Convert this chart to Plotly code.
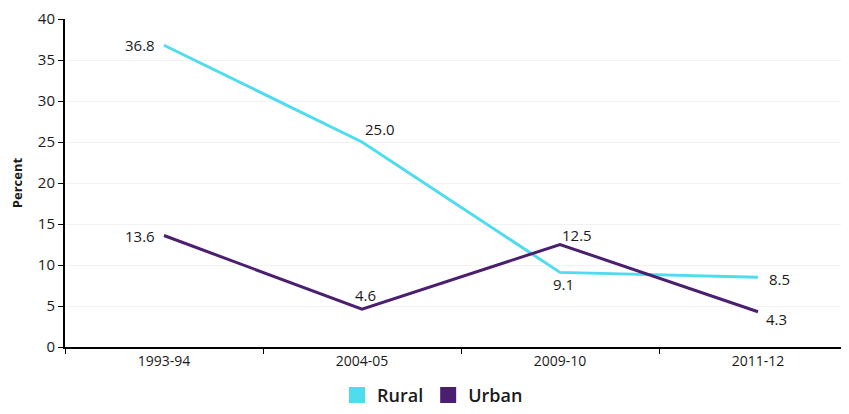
import plotly.graph_objects as go

years = ["1993-94", "2004-05", "2009-10", "2011-12"]
rural = [36.8, 25.0, 9.1, 8.5]
urban = [13.6, 4.6, 12.5, 4.3]
series_names = ["Rural", "Urban"]
colors = ["#4fdcef", "#4b1f6f"]

# label offsets (pixels) relative to each point
rural_shift = [(-24, 0), (18, 13), (3, -12), (21, -2)]
urban_shift = [(-24, -1), (3, 14), (17, 10), (18, -7)]

FONT = "'Open Sans', sans-serif"

fig = go.Figure()
for name, vals, col in zip(series_names, [rural, urban], colors):
    fig.add_trace(go.Scatter(
        x=years, y=vals, name=name, mode="lines", showlegend=False,
        line=dict(color=col, width=3),
    ))
for name, col in zip(series_names, colors):
    fig.add_trace(go.Scatter(
        x=[None], y=[None], name=name, mode="markers",
        marker=dict(symbol="square", size=17, color=col),
    ))

for vals, shifts in [(rural, rural_shift), (urban, urban_shift)]:
    for yr, v, (dx, dy) in zip(years, vals, shifts):
        fig.add_annotation(
            x=yr, y=v, text=f"{v:.1f}", showarrow=False,
            xshift=dx, yshift=dy, xanchor="center", yanchor="middle",
            font=dict(size=15, color="#1a1a1a", family=FONT),
        )

fig.update_layout(
    width=849, height=414,
    margin=dict(l=57, r=0, t=11, b=75, autoexpand=False),
    paper_bgcolor="white", plot_bgcolor="white",
    font=dict(family=FONT, size=14, color="#1a1a1a"),
    showlegend=True,
    legend=dict(orientation="h", x=0.5, xanchor="center", xref="container",
                y=0.02, yanchor="bottom", yref="container",
                font=dict(size=18, color="#1a1a1a", family=FONT, weight=600),
                traceorder="normal", itemwidth=30),
    xaxis=dict(
        type="category", range=[-0.5, 3.5], automargin=False,
        showline=True, linecolor="black", linewidth=2,
        ticks="outside", tickson="boundaries", ticklen=5, tickcolor="black",
        showgrid=False, tickfont=dict(size=14),
    ),
    yaxis=dict(
        range=[0, 40], dtick=5, automargin=False, ticklabeloverflow="allow",
        showline=True, linecolor="black", linewidth=2,
        ticks="outside", ticklen=5, tickcolor="black",
        showgrid=True, gridcolor="#f2f2f2", gridwidth=1,
        zeroline=False, tickfont=dict(size=15),
        title=dict(text="<b>Percent</b>", font=dict(size=13), standoff=12),
    ),
)

fig.write_html("out.html")
